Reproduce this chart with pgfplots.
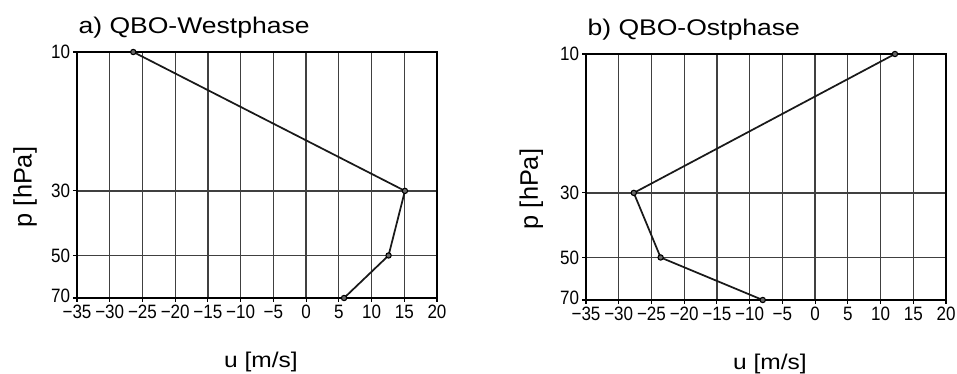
\documentclass[border=0pt]{standalone}
\usepackage{fontspec}
\setmainfont{Liberation Sans}
\newfontfamily\tickfont{Liberation Sans}[FakeStretch=0.88]
\newfontfamily\titlefont{Liberation Sans}[FakeStretch=1.17]
\newfontfamily\xlabfont{Liberation Sans}[FakeStretch=1.15]
\usepackage{pgfplots}
\pgfplotsset{compat=1.18}
\pgfplotsset{qbo/.style={
  width=270pt, height=184.5pt, scale only axis,
  xmin=-35, xmax=20, ymin=10, ymax=70, y dir=reverse,
  xtick={-35,-30,-25,-20,-15,-10,-5,0,5,10,15,20},
  xticklabels={−35,−30,−25,−20,−15,−10,−5,0,5,10,15,20},
  ytick={10,30,50,70}, yticklabels={10,30,50,\raisebox{3pt}{70}},
  minor tick num=0,
  grid=major, major grid style={line width=1pt, black!75},
  axis line style={line width=1.6pt, black},
  tick pos=left, tick align=outside, major tick length=3pt,
  tick style={black, line width=0.8pt},
  tick label style={font=\tickfont\fontsize{14.5}{15}\selectfont},
  xticklabel style={inner sep=1pt, yshift=-1pt},
  yticklabel style={inner sep=2pt},
}}
\begin{document}
\begin{tikzpicture}
\useasboundingbox (-57.75pt,-57pt) rectangle (660pt,223.5pt);
\begin{semilogyaxis}[qbo, name=A, anchor=south west, at={(0pt,0pt)}]
\addplot[black!90, line width=1.3pt, mark=*, mark size=2pt, mark options={fill=black!60, draw=black, line width=0.8pt}] coordinates {
  (-26.4,10) (15.1,30) (12.6,50) (5.8,70)
};
\end{semilogyaxis}
\begin{semilogyaxis}[qbo, name=B, anchor=south west, at={(381.75pt,-1.5pt)}]
\addplot[black!90, line width=1.3pt, mark=*, mark size=2pt, mark options={fill=black!60, draw=black, line width=0.8pt}] coordinates {
  (12.2,10) (-27.7,30) (-23.6,50) (-8.0,70)
};
\end{semilogyaxis}
\node[anchor=base west, inner sep=0pt, font=\titlefont\fontsize{17}{18}\selectfont] at ([xshift=1pt,yshift=14pt]A.north west) {a) QBO-Westphase};
\node[anchor=base west, inner sep=0pt, font=\titlefont\fontsize{17}{18}\selectfont] at ([xshift=1pt,yshift=14pt]B.north west) {b) QBO-Ostphase};
\node[anchor=base, inner sep=0pt, font=\xlabfont\fontsize{16}{18}\selectfont] at ([xshift=3pt,yshift=-52.5pt]A.south) {u [m/s]};
\node[anchor=base, inner sep=0pt, font=\xlabfont\fontsize{16}{18}\selectfont] at ([xshift=3pt,yshift=-52.5pt]B.south) {u [m/s]};
\node[rotate=90, inner sep=0pt, font=\fontsize{19}{20}\selectfont] at ([xshift=-39pt,yshift=-9pt]A.west) {p [hPa]};
\node[rotate=90, inner sep=0pt, font=\fontsize{19}{20}\selectfont] at ([xshift=-41pt,yshift=-9pt]B.west) {p [hPa]};
\end{tikzpicture}
\end{document}
